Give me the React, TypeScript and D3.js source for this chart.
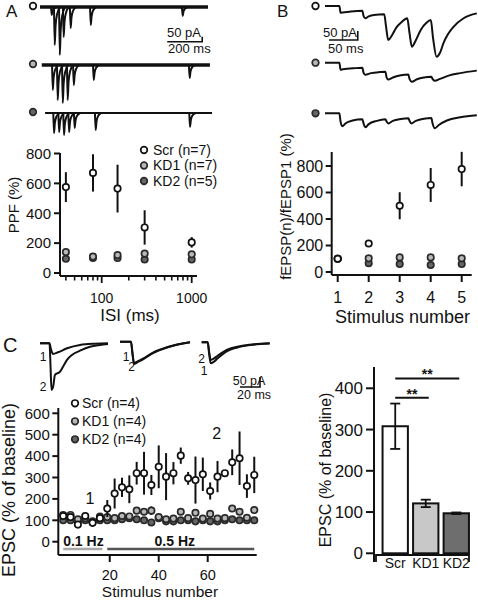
import React from "react";
import * as d3 from "d3";

const FONT = "'Liberation Sans', Arial, Helvetica, sans-serif";

// ---------- Panel A data ----------
const isiMs = [40, 80, 150, 300, 1000];
const ppfScr = [575, 670, 565, 305, 205];
const ppfScrErr = [100, 125, 160, 115, 35];
const ppfKD1 = [140, 110, 120, 130, 125];
const ppfKD1Err = [8, 6, 8, 8, 8];
const ppfKD2 = [95, 100, 100, 90, 90];
const ppfKD2Err = [4, 4, 4, 4, 4];
const ppfTicks = [0, 200, 400, 600, 800];
const isiMajorTicks = [100, 1000];
const isiMinorTicks = [40, 50, 60, 70, 80, 90, 200, 300, 400, 500, 600, 700, 800, 900];
const legendA = ["Scr (n=7)", "KD1 (n=7)", "KD2 (n=5)"];

// Panel A traces: [time ms, amplitude pA]
const aScrEvents: [number, number][] = [[63, 80], [80, 380], [109, 480], [131, 300], [171, 210], [286, 180], [811, 90]];
const aKD1Events: [number, number][] = [[69, 250], [97, 350], [126, 380], [154, 350], [189, 200], [303, 150], [851, 130]];
const aKD2Events: [number, number][] = [[76, 200], [105, 190], [133, 220], [162, 190], [194, 150], [314, 170], [853, 140]];
const eventShapeA: [number, number][] = [[0, 0], [4, 1], [9, 0.5], [18, 0.18], [35, 0]];

// ---------- Panel B data ----------
const stimB = [1, 2, 3, 4, 5];
const fScr = [100, 215, 500, 657, 777];
const fScrErr = [0, 10, 102, 128, 130];
const fKD1 = [100, 103, 110, 110, 103];
const fKD1Err = [0, 5, 5, 5, 5];
const fKD2 = [100, 66, 60, 53, 60];
const fKD2Err = [0, 5, 5, 5, 5];
const fTicks = [0, 200, 400, 600, 800];

// Panel B traces: [time ms, inward current pA]
const bScrTrace: [number, number][] = [[0, 0], [25, 0], [27, 37], [31, 36], [45, 30], [65, 26], [67, 55], [70, 68], [76, 58], [85, 50], [103, 46], [106, 110], [110, 189], [116, 165], [124, 120], [133, 90], [143, 68], [147, 150], [151, 226], [158, 190], [167, 130], [176, 95], [184, 78], [188, 180], [194, 282], [200, 260], [206, 206], [214, 156], [223, 117], [241, 68], [264, 41]];
const bKD1Trace: [number, number][] = [[0, 0], [25, 0], [27, 39], [31, 37], [50, 31], [65, 28], [67, 55], [70, 67], [80, 58], [95, 52], [105, 50], [107, 80], [110, 94], [118, 82], [132, 70], [145, 66], [147, 90], [151, 106], [160, 92], [172, 82], [185, 78], [187, 90], [191, 100], [200, 90], [215, 72], [235, 58], [264, 44]];
const bKD2Trace: [number, number][] = [[0, 0], [25, 0], [27, 45], [30, 72], [36, 55], [48, 40], [65, 33], [67, 55], [70, 78], [76, 60], [90, 42], [105, 33], [107, 45], [110, 56], [118, 42], [132, 32], [145, 28], [147, 42], [150, 56], [158, 42], [172, 30], [185, 26], [187, 55], [191, 83], [198, 65], [212, 40], [235, 22], [264, 11]];

// ---------- Panel C data ----------
const stimC = [1, 4, 7, 10, 13, 16, 19, 22, 25, 28, 31, 34, 37, 40, 43, 46, 49, 52, 55, 58, 61, 64, 67, 70, 73, 76, 79];
const cScr = [120, 115, 80, 120, 88, 110, 155, 225, 254, 245, 320, 320, 265, 350, 304, 320, 402, 296, 288, 315, 237, 304, 320, 371, 390, 260, 312];
const cScrErr = [12, 10, 12, 10, 18, 10, 40, 70, 45, 65, 53, 100, 47, 100, 110, 52, 38, 30, 110, 78, 40, 73, 10, 60, 125, 55, 85];
const cKD1 = [125, 125, 105, 110, 95, 118, 115, 110, 120, 118, 145, 140, 145, 115, 105, 108, 140, 110, 135, 108, 130, 108, 110, 155, 140, 112, 148];
const cKD1Err = [8, 6, 6, 6, 8, 6, 8, 6, 8, 8, 12, 10, 20, 8, 6, 8, 10, 8, 10, 8, 10, 8, 8, 12, 12, 8, 15];
const cKD2 = [100, 100, 95, 100, 92, 100, 100, 100, 105, 110, 105, 100, 90, 110, 95, 95, 100, 100, 95, 100, 95, 95, 100, 105, 100, 100, 100];
const cKD2Err = [5, 5, 5, 5, 5, 5, 5, 5, 5, 5, 5, 5, 5, 5, 5, 5, 5, 5, 5, 5, 5, 5, 5, 5, 5, 5, 5];
const cYTicks = [0, 100, 200, 300, 400, 500, 600];
const cXTicks = [20, 40, 60];
const legendC = ["Scr (n=4)", "KD1 (n=4)", "KD2 (n=4)"];
const freqSegments: [number, number, string][] = [[1, 17, "0.1 Hz"], [19, 79, "0.5 Hz"]];

// Panel C traces: [time ms, inward current pA]
const cG1T1: [number, number][] = [[0, 0], [9.5, 0], [11, 30], [13, 53], [18, 45], [27, 25], [40, 8], [55, 2], [68, 0]];
const cG1T2: [number, number][] = [[0, 0], [9.5, 0], [10.5, 110], [11.5, 233], [13, 220], [15, 158], [20, 142], [23, 117], [27, 83], [32, 58], [40, 37], [50, 17], [60, 8], [68, 3]];
const cG2T1: [number, number][] = [[0, 0], [11, 0], [12.5, 60], [14, 105], [17, 100], [23, 85], [33, 55], [47, 28], [60, 12], [70, 3]];
const cG2T2: [number, number][] = [[0, 0], [11, 0], [12.5, 60], [14, 112], [17, 104], [23, 88], [33, 57], [47, 29], [60, 12], [70, 3]];
const cG3T1: [number, number][] = [[0, 0], [6, 0], [7.5, 60], [9, 105], [12, 98], [16, 80], [25, 45], [38, 23], [52, 12], [68, 6]];
const cG3T2: [number, number][] = [[0, 0], [6, 0], [7.5, 50], [9, 88], [12, 82], [16, 67], [25, 38], [38, 20], [52, 10], [68, 5]];

// ---------- Bar chart data ----------
const barCats = ["Scr", "KD1", "KD2"];
const barVals = [308, 121, 97];
const barErr = [55, 9, 2];
const barFills = ["#ffffff", "#c8c8c8", "#6e6e6e"];
const barTicks = [0, 100, 200, 300, 400];
const sigPairs: [string, string, number][] = [["Scr", "KD1", 377], ["Scr", "KD2", 424]];

type St = { fill: string; stroke: string };
const SCR: St = { fill: "#ffffff", stroke: "#111" };
const KD1: St = { fill: "#b8b8b8", stroke: "#2a2a2a" };
const KD2: St = { fill: "#666666", stroke: "#2a2a2a" };
const STYLES = [SCR, KD1, KD2];

function Points({ xs, ys, errs, sx, sy, st, r = 3.2 }: any) {
  return (
    <g>
      {xs.map((x: number, i: number) =>
        errs[i] > 0 ? (
          <line key={"e" + i} x1={sx(x)} x2={sx(x)} y1={sy(ys[i] - errs[i])} y2={sy(ys[i] + errs[i])} stroke="#111" strokeWidth={2} />
        ) : null
      )}
      {xs.map((x: number, i: number) => (
        <circle key={i} cx={sx(x)} cy={sy(ys[i])} r={r} fill={st.fill} stroke={st.stroke} strokeWidth={1.7} />
      ))}
    </g>
  );
}

function YAxis({ x, y0, y1, ticks, sy, fs, len = 6, gap = 3 }: any) {
  return (
    <g>
      <line x1={x} x2={x} y1={y0} y2={y1} stroke="#111" strokeWidth={2} />
      {ticks.map((t: number) => (
        <g key={t}>
          <line x1={x - len} x2={x} y1={sy(t)} y2={sy(t)} stroke="#111" strokeWidth={2} />
          <text x={x - len - gap} y={sy(t)} dy="0.35em" textAnchor="end" fontSize={fs}>{t}</text>
        </g>
      ))}
    </g>
  );
}

function RotTitle({ x, y, fs, text }: any) {
  return (
    <text transform={`translate(${x},${y}) rotate(-90)`} textAnchor="middle" fontSize={fs}>{text}</text>
  );
}

export default function App() {
  // ----- A -----
  const xA = d3.scaleLog().domain([100, 1000]).range([101.7, 191.7]);
  const yA = d3.scaleLinear().domain([0, 800]).range([273, 153.5]);
  const tA = d3.scaleLinear().domain([0, 200]).range([40, 75]);
  const pxPerPA_A = 0.1;
  const aRows = [
    { ev: aScrEvents, base: 7, t0: 0, t1: 960, w: 3.4, st: SCR },
    { ev: aKD1Events, base: 65, t0: 10, t1: 971, w: 3.4, st: KD1 },
    { ev: aKD2Events, base: 113, t0: 29, t1: 983, w: 2.2, st: KD2 },
  ];

  // ----- B -----
  const xB = d3.scaleLinear().domain([1, 5]).range([337.7, 461.7]);
  const yB = d3.scaleLinear().domain([0, 800]).range([272, 166]);
  const tB = d3.scaleLinear().domain([0, 50]).range([325, 353.75]);
  const pxPerPA_B = 0.18;
  const bRows = [
    { tr: bScrTrace, base: 6, st: SCR },
    { tr: bKD1Trace, base: 62.7, st: KD1 },
    { tr: bKD2Trace, base: 113.3, st: KD2 },
  ];

  // ----- C -----
  const xC = d3.scaleLinear().domain([-1, 80]).range([58.3, 256.7]);
  const yC = d3.scaleLinear().domain([0, 600]).range([541.7, 413.3]);
  const pxPerPA_C = 0.2;
  const cGroups = [
    { x0: 40, base: 343.3, traces: [cG1T1, cG1T2] },
    { x0: 120, base: 341.7, traces: [cG2T1, cG2T2] },
    { x0: 201.7, base: 342.3, traces: [cG3T1, cG3T2] },
  ];

  // ----- D (bars) -----
  const xD = d3.scaleBand<string>().domain(barCats).range([379.5, 472]).paddingInner(0.17).paddingOuter(0.1);
  const yD = d3.scaleLinear().domain([0, 400]).range([553.3, 388.3]);

  const traceLine = (sx: (v: number) => number, base: number, k: number) =>
    d3
      .line<[number, number]>()
      .x((d) => sx(d[0]))
      .y((d) => base + d[1] * k)
      .curve(d3.curveMonotoneX);

  return (
    <div style={{ position: "absolute", left: 0, top: 0 }}>
      <svg width={478} height={600} style={{ display: "block", background: "#fff" }} fontFamily={FONT} fill="#111">
        {/* Panel labels */}
        <text x={6} y={17} fontSize={17}>A</text>
        <text x={277} y={17} fontSize={17}>B</text>
        <text x={3} y={352} fontSize={20}>C</text>

        {/* ---------- A traces ---------- */}
        {aRows.map((row, ri) => {
          const ln = traceLine(tA, row.base, pxPerPA_A);
          return (
            <g key={ri}>
              <circle cx={33} cy={row.base - 1} r={3.3} fill={row.st.fill} stroke={row.st.stroke} strokeWidth={1.7} />
              <line x1={tA(row.t0)} x2={tA(row.t1)} y1={row.base} y2={row.base} stroke="#111" strokeWidth={row.w} />
              {row.ev.map((e, i) => (
                <path
                  key={i}
                  d={ln(eventShapeA.map((p) => [e[0] + p[0], e[1] * p[1]] as [number, number])) || ""}
                  fill="none"
                  stroke="#111"
                  strokeWidth={2}
                />
              ))}
            </g>
          );
        })}
        {/* A scale bar */}
        <text x={167} y={37} fontSize={13}>50 pA</text>
        <text x={168} y={53} fontSize={13}>200 ms</text>
        <path
          d={`M${tA(727)},41.7 H${tA(927)} V${41.7 - 50 * pxPerPA_A}`}
          fill="none"
          stroke="#111"
          strokeWidth={1.6}
        />

        {/* ---------- A plot ---------- */}
        <YAxis x={60} y0={153} y1={276} ticks={ppfTicks} sy={yA} fs={15} len={6} gap={3} />
        <line x1={60} x2={197} y1={276} y2={276} stroke="#111" strokeWidth={2} />
        {isiMinorTicks.map((t) => (
          <line key={t} x1={xA(t)} x2={xA(t)} y1={276} y2={280.5} stroke="#111" strokeWidth={1.6} />
        ))}
        {isiMajorTicks.map((t) => (
          <g key={t}>
            <line x1={xA(t)} x2={xA(t)} y1={276} y2={283} stroke="#111" strokeWidth={1.8} />
            <text x={xA(t)} y={303} textAnchor="middle" fontSize={14}>{t}</text>
          </g>
        ))}
        <text x={130} y={321} textAnchor="middle" fontSize={17}>ISI (ms)</text>
        <RotTitle x={19} y={205} fs={15} text="PPF (%)" />
        <Points xs={isiMs} ys={ppfKD2} errs={ppfKD2Err} sx={xA} sy={yA} st={KD2} />
        <Points xs={isiMs} ys={ppfKD1} errs={ppfKD1Err} sx={xA} sy={yA} st={KD1} />
        <Points xs={isiMs} ys={ppfScr} errs={ppfScrErr} sx={xA} sy={yA} st={SCR} />
        {legendA.map((l, i) => (
          <g key={l}>
            <circle cx={144} cy={150 + i * 15.5} r={3.3} fill={STYLES[i].fill} stroke={STYLES[i].stroke} strokeWidth={1.7} />
            <text x={153} y={150 + i * 15.5} dy="0.35em" fontSize={14}>{l}</text>
          </g>
        ))}

        {/* ---------- B traces ---------- */}
        {bRows.map((row, ri) => {
          const ln = traceLine(tB, row.base, pxPerPA_B);
          return (
            <g key={ri}>
              <circle cx={315.5} cy={row.base} r={3.3} fill={row.st.fill} stroke={row.st.stroke} strokeWidth={1.7} />
              <path d={ln(row.tr) || ""} fill="none" stroke="#111" strokeWidth={2} />
            </g>
          );
        })}
        <text x={323} y={37} fontSize={13}>50 pA</text>
        <text x={328} y={53} fontSize={13}>50 ms</text>
        <path d={`M${tB(7)},40 H${tB(57)} V${40 - 50 * pxPerPA_B}`} fill="none" stroke="#111" strokeWidth={1.6} />

        {/* ---------- B plot ---------- */}
        <YAxis x={331.7} y0={152} y1={275} ticks={fTicks} sy={yB} fs={16} len={6} gap={2.5} />
        <line x1={331.7} x2={471.7} y1={275} y2={275} stroke="#111" strokeWidth={2} />
        {stimB.map((s) => (
          <g key={s}>
            <line x1={xB(s)} x2={xB(s)} y1={275} y2={282} stroke="#111" strokeWidth={2} />
            <text x={xB(s)} y={302.5} textAnchor="middle" fontSize={16}>{s}</text>
          </g>
        ))}
        <text x={402.5} y={323} textAnchor="middle" fontSize={18}>Stimulus number</text>
        <RotTitle x={291} y={206.5} fs={15} text="fEPSP(n)/fEPSP1 (%)" />
        <Points xs={stimB} ys={fKD2} errs={fKD2Err} sx={xB} sy={yB} st={KD2} />
        <Points xs={stimB} ys={fKD1} errs={fKD1Err} sx={xB} sy={yB} st={KD1} />
        <Points xs={stimB} ys={fScr} errs={fScrErr} sx={xB} sy={yB} st={SCR} />

        {/* ---------- C traces ---------- */}
        {cGroups.map((g, gi) => {
          const sx = d3.scaleLinear().domain([0, 20]).range([g.x0, g.x0 + 20]);
          const ln = traceLine(sx, g.base, pxPerPA_C);
          return (
            <g key={gi}>
              {g.traces.map((tr, ti) => (
                <path key={ti} d={ln(tr) || ""} fill="none" stroke="#111" strokeWidth={2} />
              ))}
            </g>
          );
        })}
        <g fontSize={12}>
          <text x={43} y={357} textAnchor="middle" dy="0.35em">1</text>
          <text x={43} y={387} textAnchor="middle" dy="0.35em">2</text>
          <text x={126} y={356.5} textAnchor="middle" dy="0.35em">1</text>
          <text x={131.7} y={367} textAnchor="middle" dy="0.35em">2</text>
          <text x={201.7} y={358.5} textAnchor="middle" dy="0.35em">2</text>
          <text x={204} y={370.5} textAnchor="middle" dy="0.35em">1</text>
        </g>
        <text x={232.7} y={384.5} fontSize={12.5}>50 pA</text>
        <text x={237} y={399} fontSize={12.5}>20 ms</text>
        <path d={`M240,387 H260 V${387 - 50 * pxPerPA_C}`} fill="none" stroke="#111" strokeWidth={1.6} />

        {/* ---------- C scatter ---------- */}
        <YAxis x={58.3} y0={408} y1={555} ticks={cYTicks} sy={yC} fs={15} len={6} gap={2.5} />
        <line x1={58.3} x2={256.7} y1={555} y2={555} stroke="#111" strokeWidth={2} />
        {cXTicks.map((t) => (
          <g key={t}>
            <line x1={xC(t)} x2={xC(t)} y1={555} y2={562} stroke="#111" strokeWidth={2} />
            <text x={xC(t)} y={580} textAnchor="middle" fontSize={14.5}>{t}</text>
          </g>
        ))}
        <text x={160} y={597} textAnchor="middle" fontSize={15.5}>Stimulus number</text>
        <RotTitle x={15} y={490} fs={18} text="EPSC (% of baseline)" />
        {freqSegments.map(([a, b, lab], i) => (
          <g key={lab}>
            <line x1={xC(a)} x2={xC(b)} y1={549} y2={549} stroke={i === 0 ? "#a8a8a8" : "#555"} strokeWidth={2.6} />
            <text x={i === 0 ? xC(a) : (xC(a) + xC(b)) / 2 - 6} y={546} textAnchor={i === 0 ? "start" : "middle"} fontSize={14} fontWeight="bold">{lab}</text>
          </g>
        ))}
        <Points xs={stimC} ys={cKD2} errs={cKD2Err} sx={xC} sy={yC} st={KD2} />
        <Points xs={stimC} ys={cKD1} errs={cKD1Err} sx={xC} sy={yC} st={KD1} />
        <Points xs={stimC} ys={cScr} errs={cScrErr} sx={xC} sy={yC} st={SCR} />
        <text x={90} y={498} dy="0.35em" textAnchor="middle" fontSize={16}>1</text>
        <text x={216.7} y={433.3} dy="0.35em" textAnchor="middle" fontSize={16}>2</text>
        {legendC.map((l, i) => (
          <g key={l}>
            <circle cx={75} cy={403.3 + i * 18} r={3.3} fill={STYLES[i].fill} stroke={STYLES[i].stroke} strokeWidth={1.7} />
            <text x={82} y={403.3 + i * 18} dy="0.35em" fontSize={14}>{l}</text>
          </g>
        ))}

        {/* ---------- Bar chart ---------- */}
        <YAxis x={374} y0={367} y1={562} ticks={barTicks} sy={yD} fs={17} len={8} gap={3} />
        <path d="M376,562 V555 H469 V562" fill="none" stroke="#111" strokeWidth={1.8} />
        {barCats.map((c, i) => (
          <g key={c}>
            <rect x={xD(c)} y={yD(barVals[i])} width={xD.bandwidth()} height={yD(0) - yD(barVals[i])} fill={barFills[i]} stroke="#111" strokeWidth={2} />
            <line x1={xD(c)! + xD.bandwidth() / 2} x2={xD(c)! + xD.bandwidth() / 2} y1={yD(barVals[i] + barErr[i])} y2={yD(barVals[i] - barErr[i])} stroke="#111" strokeWidth={1.8} />
            <line x1={xD(c)! + xD.bandwidth() / 2 - 5} x2={xD(c)! + xD.bandwidth() / 2 + 5} y1={yD(barVals[i] + barErr[i])} y2={yD(barVals[i] + barErr[i])} stroke="#111" strokeWidth={1.8} />
            <line x1={xD(c)! + xD.bandwidth() / 2 - 5} x2={xD(c)! + xD.bandwidth() / 2 + 5} y1={yD(barVals[i] - barErr[i])} y2={yD(barVals[i] - barErr[i])} stroke="#111" strokeWidth={1.8} />
            <text x={xD(c)! + xD.bandwidth() / 2} y={568} textAnchor="middle" fontSize={14}>{c}</text>
          </g>
        ))}
        {sigPairs.map(([a, b, v]) => {
          const x1 = xD(a)! + xD.bandwidth() / 2;
          const x2 = xD(b)! + xD.bandwidth() / 2 + 3;
          return (
            <g key={b}>
              <line x1={x1} x2={x2} y1={yD(v)} y2={yD(v)} stroke="#111" strokeWidth={2} />
              <text x={(x1 + x2) / 2} y={yD(v) + 1} textAnchor="middle" fontSize={14} fontWeight="bold">**</text>
            </g>
          );
        })}
        <RotTitle x={331} y={470} fs={16} text="EPSC (% of baseline)" />
      </svg>
    </div>
  );
}
